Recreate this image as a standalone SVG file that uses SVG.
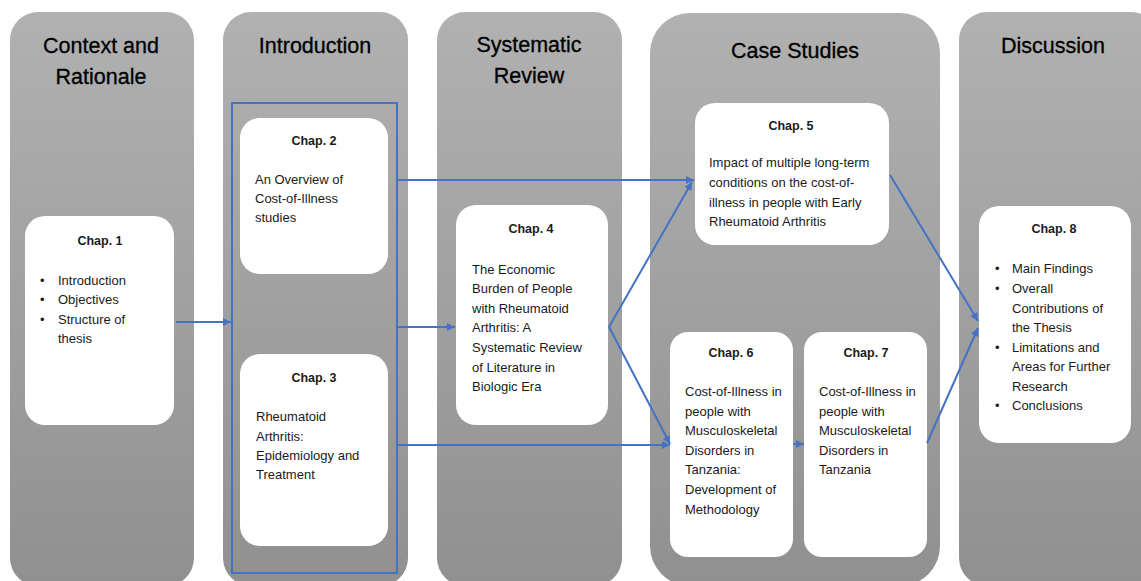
<svg xmlns="http://www.w3.org/2000/svg" width="1141" height="581" viewBox="0 0 1141 581">
<style>
.col{fill:url(#g)}
.box{fill:#fff}
.hd{font-family:"Liberation Sans",Arial,sans-serif;font-size:21.5px;fill:#000;text-anchor:middle;stroke:#000;stroke-width:0.3}
.t{font-family:"Liberation Sans",Arial,sans-serif;font-size:13px;fill:#1a1a1a}
.ti{font-family:"Liberation Sans",Arial,sans-serif;font-size:12.5px;font-weight:bold;fill:#1a1a1a;text-anchor:middle}
.c{fill:none;stroke:#4472C4;stroke-width:2}
</style>
<defs>
<linearGradient id="g" x1="0" y1="0" x2="0" y2="1">
<stop offset="0" stop-color="#b1b1b1"/>
<stop offset="1" stop-color="#909090"/>
</linearGradient>
<marker id="ah" viewBox="0 0 10 10" refX="10" refY="5" markerWidth="9" markerHeight="8" orient="auto" markerUnits="userSpaceOnUse">
<path d="M0,0 L10,5 L0,10 z" fill="#4472C4"/>
</marker>
</defs>
<rect width="1141" height="581" fill="#fff"/>
<g id="col-context">
<rect class="col" x="10" y="12" width="184" height="574" rx="28"/>
<text class="hd" x="101" y="53">Context and</text>
<text class="hd" x="101" y="84">Rationale</text>
</g>
<g id="col-intro">
<rect class="col" x="223" y="12" width="185" height="574" rx="28"/>
<text class="hd" x="315" y="53">Introduction</text>
</g>
<g id="col-review">
<rect class="col" x="437" y="12" width="185" height="574" rx="28"/>
<text class="hd" x="529" y="52">Systematic</text>
<text class="hd" x="529" y="83">Review</text>
</g>
<g id="col-case">
<rect class="col" x="650" y="13" width="290" height="573" rx="40"/>
<text class="hd" x="795" y="58">Case Studies</text>
</g>
<g id="col-discussion">
<rect class="col" x="959" y="12" width="200" height="574" rx="28"/>
<text class="hd" x="1053" y="53">Discussion</text>
</g>
<g id="chap1">
<rect class="box" x="25" y="216" width="149" height="209" rx="20"/>
<text class="ti" x="100" y="245">Chap. 1</text>
<text class="t" x="40" y="285">•</text><text class="t" x="58" y="285">Introduction</text>
<text class="t" x="40" y="304">•</text><text class="t" x="58" y="304">Objectives</text>
<text class="t" x="40" y="324">•</text><text class="t" x="58" y="324">Structure of</text>
<text class="t" x="58" y="343">thesis</text>
</g>
<g id="intro-frame">
<rect x="232" y="103" width="165" height="470" fill="none" stroke="#4472C4" stroke-width="2"/>
</g>
<g id="chap2">
<rect class="box" x="240" y="118" width="148" height="156" rx="20"/>
<text class="ti" x="314" y="145">Chap. 2</text>
<text class="t" x="255" y="184">An Overview of</text>
<text class="t" x="255" y="203">Cost-of-Illness</text>
<text class="t" x="255" y="222">studies</text>
</g>
<g id="chap3">
<rect class="box" x="240" y="354" width="148" height="192" rx="20"/>
<text class="ti" x="314" y="382">Chap. 3</text>
<text class="t" x="256" y="421">Rheumatoid</text>
<text class="t" x="256" y="441">Arthritis:</text>
<text class="t" x="256" y="460">Epidemiology and</text>
<text class="t" x="256" y="479">Treatment</text>
</g>
<g id="chap4">
<rect class="box" x="456" y="205" width="152" height="220" rx="20"/>
<text class="ti" x="531" y="233">Chap. 4</text>
<text class="t" x="472" y="274">The Economic</text>
<text class="t" x="472" y="293">Burden of People</text>
<text class="t" x="472" y="313">with Rheumatoid</text>
<text class="t" x="472" y="332">Arthritis: A</text>
<text class="t" x="472" y="352">Systematic Review</text>
<text class="t" x="472" y="372">of Literature in</text>
<text class="t" x="472" y="391">Biologic Era</text>
</g>
<g id="chap5">
<rect class="box" x="695" y="103" width="194" height="142" rx="20"/>
<text class="ti" x="791" y="130">Chap. 5</text>
<text class="t" x="709" y="167">Impact of multiple long-term</text>
<text class="t" x="709" y="187">conditions on the cost-of-</text>
<text class="t" x="709" y="207">illness in people with Early</text>
<text class="t" x="709" y="226">Rheumatoid Arthritis</text>
</g>
<g id="chap6">
<rect class="box" x="670" y="332" width="123" height="225" rx="18"/>
<text class="ti" x="731" y="357">Chap. 6</text>
<text class="t" x="685" y="396">Cost-of-Illness in</text>
<text class="t" x="685" y="416">people with</text>
<text class="t" x="685" y="435">Musculoskeletal</text>
<text class="t" x="685" y="455">Disorders in</text>
<text class="t" x="685" y="474">Tanzania:</text>
<text class="t" x="685" y="494">Development of</text>
<text class="t" x="685" y="514">Methodology</text>
</g>
<g id="chap7">
<rect class="box" x="804" y="332" width="123" height="225" rx="18"/>
<text class="ti" x="866" y="357">Chap. 7</text>
<text class="t" x="819" y="396">Cost-of-Illness in</text>
<text class="t" x="819" y="416">people with</text>
<text class="t" x="819" y="435">Musculoskeletal</text>
<text class="t" x="819" y="455">Disorders in</text>
<text class="t" x="819" y="474">Tanzania</text>
</g>
<g id="chap8">
<rect class="box" x="979" y="206" width="152" height="237" rx="20"/>
<text class="ti" x="1054" y="233">Chap. 8</text>
<text class="t" x="995" y="273">•</text><text class="t" x="1012" y="273">Main Findings</text>
<text class="t" x="995" y="293">•</text><text class="t" x="1012" y="293">Overall</text>
<text class="t" x="1012" y="313">Contributions of</text>
<text class="t" x="1012" y="332">the Thesis</text>
<text class="t" x="995" y="352">•</text><text class="t" x="1012" y="352">Limitations and</text>
<text class="t" x="1012" y="371">Areas for Further</text>
<text class="t" x="1012" y="391">Research</text>
<text class="t" x="995" y="410">•</text><text class="t" x="1012" y="410">Conclusions</text>
</g>
<g id="connectors">
<path class="c" d="M176,322 L231,322" marker-end="url(#ah)"/>
<path class="c" d="M397,180 L694,180" marker-end="url(#ah)"/>
<path class="c" d="M397,327 L455,327" marker-end="url(#ah)"/>
<path class="c" d="M397,445 L670,445" marker-end="url(#ah)"/>
<path class="c" d="M609,327 L692,182" marker-end="url(#ah)"/>
<path class="c" d="M609,327 L670,444" marker-end="url(#ah)"/>
<path class="c" d="M793,444 L804,444" marker-end="url(#ah)"/>
<path class="c" d="M890,175 L978,321" marker-end="url(#ah)"/>
<path class="c" d="M927,443 L978,328" marker-end="url(#ah)"/>
</g>
</svg>
